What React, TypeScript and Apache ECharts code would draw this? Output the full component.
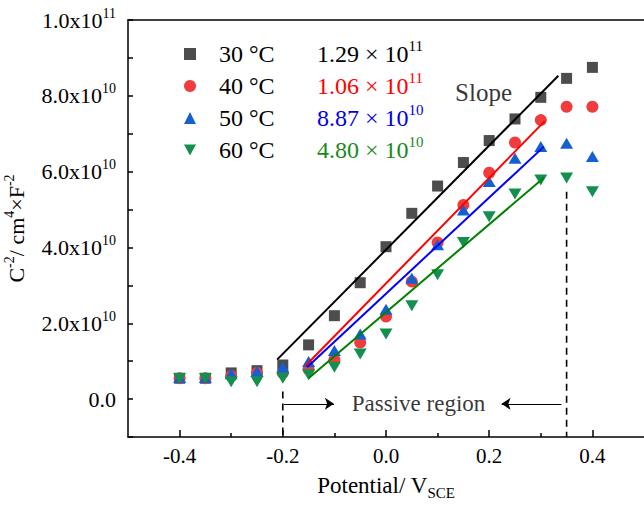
import React, { useEffect, useRef } from 'react';
import * as echarts from 'echarts';

const FONT = "'Liberation Serif', 'Times New Roman', serif";
const UNIT = 1e10;

// Potential (V vs SCE)
const potentials = [-0.4, -0.35, -0.3, -0.25, -0.2, -0.15, -0.1, -0.05, 0, 0.05, 0.1, 0.15, 0.2, 0.25, 0.3, 0.35, 0.4];
const temps = ['30 °C', '40 °C', '50 °C', '60 °C'];
// C^-2 values in units of 1e10 cm^4 F^-2
const c30 = [0.55, 0.55, 0.69, 0.75, 0.9, 1.43, 2.2, 3.07, 4.02, 4.9, 5.62, 6.24, 6.82, 7.39, 7.96, 8.46, 8.75];
const c40 = [0.55, 0.55, 0.61, 0.69, 0.69, 0.79, 1.04, 1.49, 2.18, 3.1, 4.13, 5.12, 5.97, 6.77, 7.36, 7.71, 7.71];
const c50 = [0.57, 0.57, 0.67, 0.73, 0.84, 0.99, 1.28, 1.72, 2.37, 3.19, 4.07, 4.99, 5.74, 6.35, 6.66, 6.75, 6.4];
const c60 = [0.54, 0.54, 0.46, 0.46, 0.55, 0.64, 0.84, 1.19, 1.72, 2.46, 3.28, 4.13, 4.81, 5.41, 5.78, 5.83, 5.47];
const seriesValues = [c30, c40, c50, c60];

// Mott-Schottky slopes
const slopeMantissa = ['1.29', '1.06', '8.87', '4.80'];
const slopeExponent = ['11', '11', '10', '10'];
// Linear fit segments [potential, value/1e10]
const fitStart = [[-0.211, 1.04], [-0.156, 0.88], [-0.153, 0.84], [-0.15, 0.55]];
const fitEnd = [[0.334, 8.53], [0.308, 7.34], [0.306, 6.66], [0.306, 5.84]];

// Passive region boundaries
const passiveStart = -0.2;
const passiveEnd = 0.35;
const passiveStartTop = 0.2;
const passiveEndTop = 5.47;
const arrowLevel = -0.124;
const arrowRight = [-0.198, -0.101];
const arrowLeft = [0.34, 0.224];
const passiveLabelAt = [0.063, -0.105];
const slopeLabelAt = [0.189, 8.1];

const xMajorTicks = [-0.4, -0.2, 0, 0.2, 0.4];
const xMinorTicks = [-0.3, -0.1, 0.1, 0.3];

const markerColors = ['#4d4d4d', '#f03c3c', '#1560d0', '#13904f'];
const lineColors = ['#000000', '#ff0000', '#0000ff', '#008000'];
const valueColors = ['#000000', '#ff0000', '#0000e6', '#1a8a1a'];
const symbols = ['rect', 'circle', 'triangle', 'path://M0,0L10,0L5,9Z'];
const symbolSizes: any[] = [11, 12, [13, 11], [13, 11]];

export default function App() {
  const ref = useRef<HTMLDivElement>(null);
  useEffect(() => {
    if (!ref.current) return;
    const chart = echarts.init(ref.current, null, { renderer: 'svg' });

    const rich: any = {
      pad: { width: 18, fontFamily: FONT, fontSize: 24 },
      n: { width: 98, fontFamily: FONT, fontSize: 24, color: '#000' },
    };
    valueColors.forEach((c, i) => {
      rich['v' + i] = { color: c, fontFamily: FONT, fontSize: 24 };
      rich['s' + i] = { color: c, fontFamily: FONT, fontSize: 15, verticalAlign: 'top' };
    });

    const scatterSeries = seriesValues.map((vals, i) => ({
      name: temps[i],
      type: 'scatter',
      symbol: symbols[i],
      symbolSize: symbolSizes[i],
      itemStyle: { color: markerColors[i], opacity: 1 },
      data: potentials.map((p, j) => [p, vals[j] * UNIT]),
      z: 2 + i,
      silent: true,
    }));

    const fitSeries = fitStart.map((s, i) => ({
      name: 'fit' + i,
      type: 'line',
      symbol: 'none',
      lineStyle: { color: lineColors[i], width: 2 },
      data: [
        [s[0], s[1] * UNIT],
        [fitEnd[i][0], fitEnd[i][1] * UNIT],
      ],
      z: 10,
      silent: true,
    }));

    const dashStyle = { color: '#000', width: 1.6, type: [7, 5] as any };

    const option: any = {
      animation: false,
      backgroundColor: '#fff',
      textStyle: { fontFamily: FONT },
      grid: { left: 128, right: 0, top: 20, bottom: 72, containLabel: false, outerBoundsMode: 'none' },
      legend: {
        orient: 'vertical',
        left: 179,
        top: 33,
        itemWidth: 12,
        itemHeight: 12,
        itemGap: 0,
        selectedMode: false,
        data: temps.map((t, i) => ({ name: t, icon: symbols[i] })),
        formatter: (name: string) => {
          const i = temps.indexOf(name);
          return `{pad| }{n|${name}}{v${i}|${slopeMantissa[i]} × 10}{s${i}|${slopeExponent[i]}}`;
        },
        textStyle: { fontFamily: FONT, fontSize: 24, color: '#000', lineHeight: 32, rich },
      },
      xAxis: [
        {
          type: 'value',
          min: -0.5,
          max: 0.5,
          interval: 0.1,
          position: 'bottom',
          name: 'Potential/ V{sub|SCE}',
          nameLocation: 'middle',
          nameGap: 33,
          nameTextStyle: {
            fontFamily: FONT,
            fontSize: 23,
            color: '#000',
            lineHeight: 30,
            rich: {
              sub: { fontFamily: FONT, fontSize: 15, color: '#000', verticalAlign: 'bottom' },
            },
          },
          axisLine: { show: true, onZero: false, lineStyle: { color: '#000', width: 1.5 } },
          axisTick: { show: true, inside: true, length: 7, customValues: xMajorTicks, lineStyle: { color: '#000', width: 1.5 } },
          axisLabel: {
            show: true,
            customValues: xMajorTicks,
            margin: 8,
            fontFamily: FONT,
            fontSize: 21,
            color: '#000',
            formatter: (v: number) => (Math.abs(Math.round(v * 10)) % 2 === 0 ? v.toFixed(1) : ''),
          },
          splitLine: { show: false },
        },
        {
          type: 'value',
          min: -0.5,
          max: 0.5,
          position: 'top',
          axisLine: { show: true, onZero: false, lineStyle: { color: '#000', width: 1.5 } },
          axisTick: { show: false },
          axisLabel: { show: false },
          splitLine: { show: false },
        },
        {
          type: 'value',
          min: -0.5,
          max: 0.5,
          position: 'bottom',
          axisLine: { show: false, onZero: false },
          axisTick: { show: true, inside: true, length: 4, customValues: xMinorTicks, lineStyle: { color: '#000', width: 1.5 } },
          axisLabel: { show: false },
          splitLine: { show: false },
        },
      ],
      yAxis: {
        type: 'value',
        min: -1 * UNIT,
        max: 10 * UNIT,
        interval: UNIT,
        name: 'C{sup|-2}/ cm{sup|4}×F{sup|-2}',
        nameLocation: 'middle',
        nameGap: 76,
        nameTextStyle: {
          fontFamily: FONT,
          fontSize: 22,
          color: '#000',
          lineHeight: 28,
          rich: {
            sup: { fontFamily: FONT, fontSize: 14, color: '#000', verticalAlign: 'top' },
          },
        },
        axisLine: { show: true, onZero: false, lineStyle: { color: '#000', width: 1.5 } },
        axisTick: { show: true, inside: true, length: 5, lineStyle: { color: '#000', width: 1.5 } },
        axisLabel: {
          margin: 12,
          fontFamily: FONT,
          fontSize: 22,
          color: '#000',
          lineHeight: 28,
          formatter: (v: number) => {
            const k = Math.round(v / UNIT);
            if (k < 0 || k % 2 !== 0) return '';
            if (k === 0) return '0.0';
            if (k === 10) return '1.0x10{sup|11}';
            return `${k}.0x10{sup|10}`;
          },
          rich: {
            sup: { fontFamily: FONT, fontSize: 14, color: '#000', verticalAlign: 'top' },
          },
        },
        splitLine: { show: false },
      },
      series: [
        ...scatterSeries,
        ...fitSeries,
        {
          name: 'passiveStart',
          type: 'line',
          symbol: 'none',
          lineStyle: dashStyle,
          data: [
            [passiveStart, passiveStartTop * UNIT],
            [passiveStart, -1 * UNIT],
          ],
          silent: true,
          markLine: {
            silent: true,
            symbol: ['none', 'arrow'],
            symbolSize: 9,
            label: { show: false },
            lineStyle: { color: '#000', width: 1, type: 'solid' },
            data: [
              [{ coord: [arrowRight[0], arrowLevel * UNIT] }, { coord: [arrowRight[1], arrowLevel * UNIT] }],
              [{ coord: [arrowLeft[0], arrowLevel * UNIT] }, { coord: [arrowLeft[1], arrowLevel * UNIT] }],
            ],
          },
        },
        {
          name: 'passiveEnd',
          type: 'line',
          symbol: 'none',
          lineStyle: dashStyle,
          data: [
            [passiveEnd, passiveEndTop * UNIT],
            [passiveEnd, -1 * UNIT],
          ],
          silent: true,
        },
        {
          name: 'labels',
          type: 'scatter',
          symbolSize: 1,
          itemStyle: { color: 'rgba(0,0,0,0)' },
          silent: true,
          z: 20,
          data: [
            { value: [passiveLabelAt[0], passiveLabelAt[1] * UNIT], label: { formatter: 'Passive region', fontSize: 23 } },
            { value: [slopeLabelAt[0], slopeLabelAt[1] * UNIT], label: { formatter: 'Slope', fontSize: 25 } },
          ],
          label: { show: true, position: 'inside', color: '#000', fontFamily: FONT },
        },
      ],
    };
    chart.setOption(option);
    return () => chart.dispose();
  }, []);
  return (
    <div
      ref={ref}
      style={{ position: 'absolute', left: 0, top: 0, width: 644, height: 509, background: '#fff' }}
    />
  );
}
